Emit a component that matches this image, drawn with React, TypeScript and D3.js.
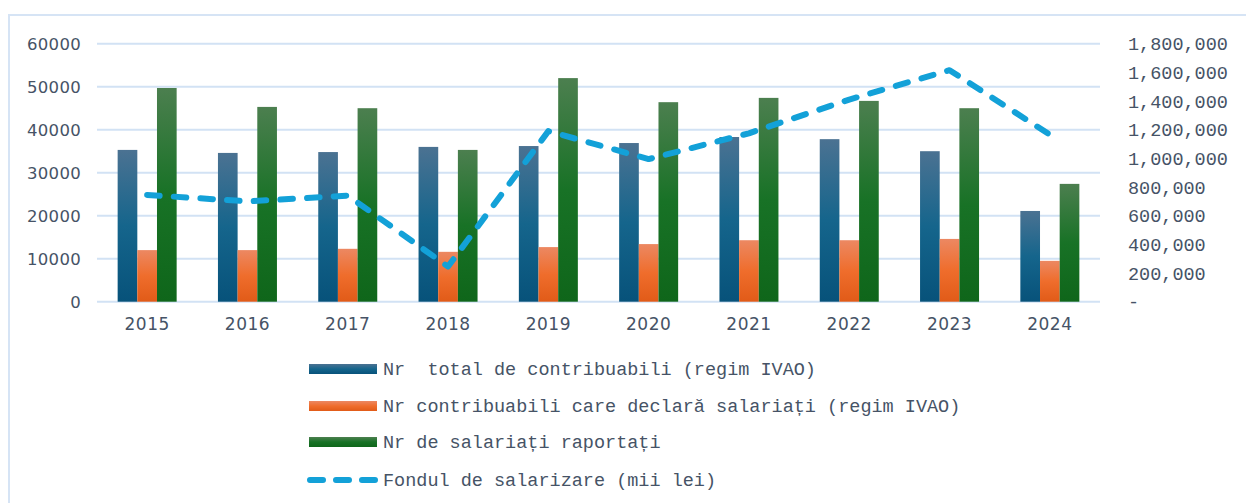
import React from "react";
import * as d3 from "d3";

const years = ["2015", "2016", "2017", "2018", "2019", "2020", "2021", "2022", "2023", "2024"];
const totalContribuabili = [35300, 34600, 34800, 36000, 36200, 36900, 38300, 37800, 35000, 21100];
const contribuabiliSalariati = [12000, 12000, 12300, 11600, 12700, 13400, 14300, 14300, 14600, 9500];
const salariatiRaportati = [49700, 45300, 45000, 35300, 52000, 46400, 47400, 46700, 45000, 27400];
const fondulSalarizare = [745000, 700000, 740000, 245000, 1190000, 995000, 1175000, 1410000, 1615000, 1165000];

const leftTicks = [0, 10000, 20000, 30000, 40000, 50000, 60000];
const rightTicks = [0, 200000, 400000, 600000, 800000, 1000000, 1200000, 1400000, 1600000, 1800000];

const seriesNames = [
  "Nr  total de contribuabili (regim IVAO)",
  "Nr contribuabili care declară salariați (regim IVAO)",
  "Nr de salariați raportați",
  "Fondul de salarizare (mii lei)",
];

const W = 1246;
const H = 503;
const plotLeft = 97;
const plotRight = 1100;
const plotTop = 43.7;
const plotBottom = 301.7;

const textColor = "#465366";
const gridColor = "#d2e2f4";
const lineColor = "#13a1d8";

export default function App() {
  const x = d3.scaleBand<string>().domain(years).range([plotLeft, plotRight]).paddingInner(0).paddingOuter(0);
  const yL = d3.scaleLinear().domain([0, 60000]).range([plotBottom, plotTop]);
  const yR = d3.scaleLinear().domain([0, 1800000]).range([plotBottom, plotTop]);
  const groupW = 59;
  const sub = d3.scaleBand<number>().domain([0, 1, 2]).range([0, groupW]).padding(0);

  const bars = [totalContribuabili, contribuabiliSalariati, salariatiRaportati];
  const grads = ["gBlue", "gOrange", "gGreen"];

  const line = d3
    .line<number>()
    .x((_, i) => (x(years[i]) as number) + x.bandwidth() / 2)
    .y((d) => yR(d));

  const legendY = [369, 406, 442, 480];
  const fmt = d3.format(",");

  return (
    <div style={{ position: "absolute", left: 0, top: 0 }}>
      <svg width={W} height={H} style={{ display: "block" }}>
        <defs>
          <linearGradient id="gBlue" x1="0" y1="0" x2="0" y2="1">
            <stop offset="0" stopColor="#4b7292" />
            <stop offset="0.5" stopColor="#15658c" />
            <stop offset="1" stopColor="#07527a" />
          </linearGradient>
          <linearGradient id="gOrange" x1="0" y1="0" x2="0" y2="1">
            <stop offset="0" stopColor="#ec8862" />
            <stop offset="0.5" stopColor="#ef6d2c" />
            <stop offset="1" stopColor="#e15b18" />
          </linearGradient>
          <linearGradient id="gGreen" x1="0" y1="0" x2="0" y2="1">
            <stop offset="0" stopColor="#4c7f4f" />
            <stop offset="0.5" stopColor="#187226" />
            <stop offset="1" stopColor="#0f661a" />
          </linearGradient>
        </defs>
        <rect x={0} y={0} width={W} height={H} fill="#ffffff" />
        <rect x={9} y={15} width={W + 20} height={H + 20} fill="none" stroke="#d6e4f5" strokeWidth={2} />

        {leftTicks.map((t) => (
          <line key={"g" + t} x1={plotLeft} x2={plotRight} y1={yL(t)} y2={yL(t)} stroke={gridColor} strokeWidth={2} />
        ))}

        {leftTicks.map((t) => (
          <text
            key={"l" + t}
            x={81}
            y={yL(t)}
            dy="0.36em"
            textAnchor="end"
            fontFamily="'DejaVu Sans', Verdana, sans-serif"
            fontSize={16.5}
            letterSpacing={0.3}
            fill={textColor}
          >
            {t}
          </text>
        ))}

        {rightTicks.map((t) => (
          <text
            key={"r" + t}
            x={1128}
            y={yR(t)}
            dy="0.35em"
            fontFamily="'Liberation Mono', 'Courier New', monospace"
            fontSize={18.5}
            fill={textColor}
          >
            {t === 0 ? "-" : fmt(t)}
          </text>
        ))}

        {years.map((yr, i) => {
          const cx = (x(yr) as number) + x.bandwidth() / 2;
          const gx = cx - groupW / 2;
          return (
            <g key={yr}>
              {bars.map((s, k) => (
                <rect
                  key={k}
                  x={gx + (sub(k) as number)}
                  y={yL(s[i])}
                  width={sub.bandwidth()}
                  height={plotBottom - yL(s[i])}
                  fill={`url(#${grads[k]})`}
                />
              ))}
              <text
                x={cx}
                y={330}
                textAnchor="middle"
                fontFamily="'DejaVu Sans', Verdana, sans-serif"
                fontSize={17}
                letterSpacing={0.5}
                fill={textColor}
              >
                {yr}
              </text>
            </g>
          );
        })}

        <path
          d={line(fondulSalarizare) || ""}
          fill="none"
          stroke={lineColor}
          strokeWidth={6}
          strokeDasharray="12.5 14.2"
          strokeLinecap="round"
          strokeLinejoin="round"
        />

        {/* Legend */}
        {[0, 1, 2].map((k) => (
          <g key={"lg" + k}>
            <rect x={309} y={legendY[k] - 5} width={68} height={10} fill={`url(#${grads[k]})`} />
          </g>
        ))}
        <line
          x1={310}
          x2={376}
          y1={legendY[3]}
          y2={legendY[3]}
          stroke={lineColor}
          strokeWidth={6}
          strokeDasharray="13 13"
          strokeLinecap="round"
        />
        {seriesNames.map((n, k) => (
          <text
            key={"lt" + k}
            x={383}
            y={legendY[k]}
            dy="0.33em"
            fontFamily="'Liberation Mono', 'Courier New', monospace"
            fontSize={18.5}
            fill={textColor}
            style={{ whiteSpace: "pre" }}
          >
            {n}
          </text>
        ))}
      </svg>
    </div>
  );
}
